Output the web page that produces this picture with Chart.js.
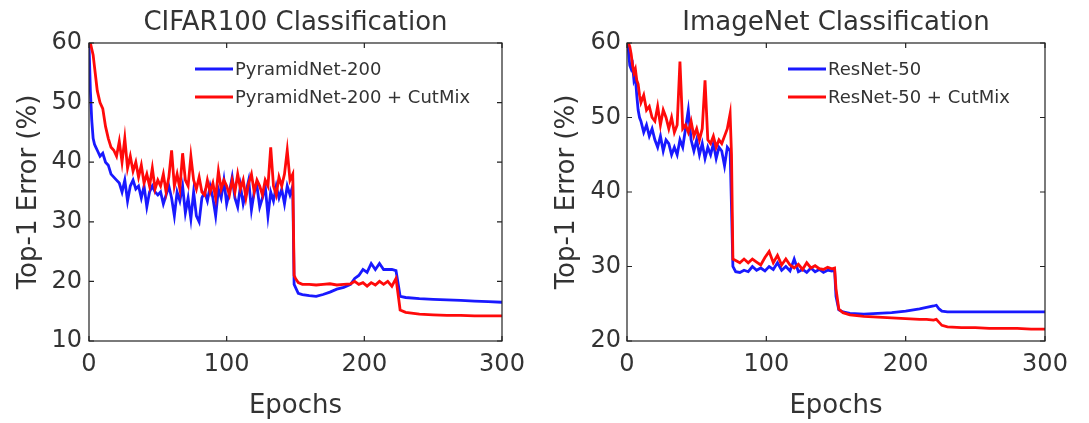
<!DOCTYPE html>
<html>
<head>
<meta charset="utf-8">
<script src="https://cdn.jsdelivr.net/npm/chart.js@4.4.0/dist/chart.umd.min.js"></script>
<style>
  html, body { margin: 0; padding: 0; background: #fff; }
  .panel { position: absolute; top: 0; }
</style>
</head>
<body>
<div class="panel" style="left:0"><canvas id="cifarChart" width="545" height="423"></canvas></div>
<div class="panel" style="left:545px"><canvas id="imagenetChart" width="544" height="423"></canvas></div>
<script>
// ── CIFAR100 data ─────────────────────────────────────────────────────
const cifarEpochs = [
  0, 1, 2, 3, 4, 5, 6, 8, 10, 12, 14, 16, 18,
  20, 22, 24, 26, 28, 30, 32, 34, 36, 38,
  40, 42, 44, 46, 48, 50, 52, 54, 56, 58,
  60, 62, 64, 66, 68, 70, 72, 74, 76, 78,
  80, 82, 84, 86, 88, 90, 92, 94, 96, 98,
  100, 102, 104, 106, 108, 110, 112, 114, 116, 118,
  120, 122, 124, 126, 128, 130, 132, 134, 136, 138,
  140, 142, 144, 146, 148,
  149, 150, 152, 155, 160, 165, 170, 175, 180, 185, 190, 193, 196, 199, 202, 205,
  208, 211, 214, 217, 220, 223, 225, 226, 230, 240, 250, 260, 270, 280, 290, 300
];
const cifarBase = [
  60, 52, 47, 44, 43, 42.5, 42, 41, 41.5, 40, 39.5, 38, 37.5,
  37, 36.5, 35, 37, 33.5, 36, 37, 35.5, 36, 34,
  36, 32.5, 35, 36, 35, 34.5, 35, 33, 34.5, 36,
  34, 31, 35, 33.5, 36, 31.5, 34, 30.5, 35, 31,
  30, 34, 35, 33.5, 36, 34, 31, 35.5, 34, 37,
  33, 35, 37.5, 34, 32.5, 36, 33, 35, 37, 32,
  35, 36, 32.5, 34, 36, 31, 35, 33.5, 36, 34,
  35.5, 33, 36, 34.5, 36,
  19.5, 19, 18, 17.8, 17.6, 17.5, 17.8, 18.2, 18.7, 19, 19.5, 20.5, 21, 22, 21.5, 23,
  22, 23, 22, 22, 22, 21.8, 19, 17.5, 17.3, 17.1, 17, 16.9, 16.8, 16.7, 16.6, 16.5
];
const cifarCutmix = [
  60, 60, 59, 58, 56, 54, 52, 50, 49, 46, 44, 42.5, 42,
  41, 43.5, 40, 44, 39, 41, 38.5, 40, 37.5, 39.5,
  36.5, 38, 36, 39, 35.5, 37, 36, 38, 35, 37.5,
  42, 36, 38, 35.5, 41.5, 37, 36, 41, 37, 35.5,
  37.5, 35, 34.5, 37, 35, 36.5, 34, 38.5, 35.5, 37,
  36, 34.5, 37, 35, 38, 35.5, 37, 34, 36.5, 38,
  35, 37, 36, 34.5, 37, 36, 42.5, 36, 34.5, 37.5,
  36, 38, 42, 37, 38,
  21, 20.5, 19.8, 19.5, 19.5, 19.4, 19.5, 19.6, 19.4, 19.5, 19.6, 20, 19.5, 19.8, 19.2, 19.8,
  19.4, 20, 19.5, 20, 19.2, 20.5, 17, 15.2, 14.8, 14.5, 14.4, 14.3, 14.3, 14.2, 14.2, 14.2
];

// ── ImageNet data ─────────────────────────────────────────────────────
const imagenetEpochs = [
  0, 1, 2, 3, 4, 5, 6, 7, 8, 9, 10,
  12, 14, 16, 18, 20, 22, 24, 26, 28, 30,
  32, 34, 36, 38, 40, 42, 44, 46, 48, 50,
  52, 54, 56, 58, 60, 62, 64, 66, 68, 70, 72, 74,
  75, 76, 78, 81, 84, 87, 90, 93, 96, 99, 102, 105, 108, 111,
  114, 117, 120, 123, 126, 129, 132, 135, 138, 141, 144, 147, 149,
  150, 152, 155, 160, 170, 180, 190, 200, 210, 215, 220,
  222, 224, 226, 230, 240, 250, 260, 270, 280, 290, 300
];
const imagenetBase = [
  60, 59, 57, 56.5, 57, 55, 55.5, 53, 51, 50, 49.5,
  48, 49, 47.5, 48.5, 47, 46, 47.5, 45.5, 47, 46.5,
  45, 46, 45, 47, 46, 48.5, 51, 47, 45.5, 47,
  45, 46.5, 44.5, 46, 45, 46.5, 44.5, 46, 45.5, 43.5, 46, 45.5,
  38, 30, 29.3, 29.2, 29.5, 29.3, 30, 29.5, 29.8, 29.4, 30, 29.6, 30.5, 29.5,
  30, 29.4, 31, 29.3, 29.6, 29.2, 29.8, 29.3, 29.6, 29.2, 29.5, 29.4, 29.5,
  26, 24.2, 23.9, 23.7, 23.6, 23.7, 23.8, 24, 24.3, 24.5, 24.7,
  24.8, 24.3, 24, 23.9, 23.9, 23.9, 23.9, 23.9, 23.9, 23.9, 23.9
];
const imagenetCutmix = [
  60, 60, 59.5, 58.5, 57, 56, 56.5, 55, 54.5, 53, 52,
  53, 51, 51.5, 50, 49.5, 51.5, 49, 51, 50, 48.5,
  50, 48, 49, 57.5, 48.5, 49, 48, 49.5, 47.5, 48.5,
  47, 48.5, 55, 47, 46.5, 47.5, 46, 47, 46.5, 47.5, 48.5, 50.5,
  45, 31, 30.8, 30.5, 31, 30.5, 31, 30.6, 30.2, 31.2, 32, 30.5, 31.5, 30.2,
  31, 30.2, 29.8, 30.3, 29.6, 30.5, 29.8, 30.1, 29.7, 29.6, 29.9, 29.7, 29.8,
  27, 24.3, 23.8, 23.5, 23.3, 23.2, 23.1, 23, 22.9, 22.9, 22.8,
  22.9, 22.5, 22.1, 21.9, 21.8, 21.8, 21.7, 21.7, 21.7, 21.6, 21.6
];

const xTicks = [0, 100, 200, 300];

const BLUE = 'rgb(25, 25, 255)';
const RED  = 'rgb(255, 10, 10)';
const FONT = "'DejaVu Sans', sans-serif";

// ── Frame, inward ticks, title and legend (MATLAB look) ──────────────
const framePlugin = {
  id: 'frame',
  afterDatasetsDraw(chart, args, opts) {
    const { ctx, chartArea: a, scales } = chart;
    ctx.save();
    ctx.strokeStyle = '#222';
    ctx.lineWidth = 1.2;
    ctx.strokeRect(a.left, a.top, a.right - a.left, a.bottom - a.top);

    const tl = 5;
    ctx.beginPath();
    scales.x.ticks.forEach(t => {
      const px = scales.x.getPixelForValue(t.value);
      ctx.moveTo(px, a.bottom); ctx.lineTo(px, a.bottom - tl);
      ctx.moveTo(px, a.top);    ctx.lineTo(px, a.top + tl);
    });
    scales.y.ticks.forEach(t => {
      const py = scales.y.getPixelForValue(t.value);
      ctx.moveTo(a.left, py);  ctx.lineTo(a.left + tl, py);
      ctx.moveTo(a.right, py); ctx.lineTo(a.right - tl, py);
    });
    ctx.stroke();

    // title
    ctx.fillStyle = '#333';
    ctx.font = '26px ' + FONT;
    ctx.textAlign = 'center';
    ctx.textBaseline = 'alphabetic';
    ctx.fillText(opts.title, (a.left + a.right) / 2, 30);

    // legend
    ctx.font = '18px ' + FONT;
    ctx.textAlign = 'left';
    ctx.textBaseline = 'middle';
    opts.legend.forEach((item, i) => {
      const y = opts.legendY[i];
      ctx.strokeStyle = item.color;
      ctx.lineWidth = 2.8;
      ctx.beginPath();
      ctx.moveTo(opts.legendX, y);
      ctx.lineTo(opts.legendX + 38, y);
      ctx.stroke();
      ctx.fillStyle = '#333';
      ctx.fillText(item.label, opts.legendX + 40, y + 1);
    });
    ctx.restore();
  },
};

function toPoints(epochs, values) {
  return epochs.map((e, i) => ({ x: e, y: values[i] }));
}

function makeChart(canvasId, cfg) {
  return new Chart(document.getElementById(canvasId), {
    type: 'line',
    data: {
      datasets: [
        {
          label: cfg.labels[0],
          data: toPoints(cfg.epochs, cfg.base),
          borderColor: BLUE,
          borderWidth: 2.8,
          pointRadius: 0,
          tension: 0,
          order: 1,
        },
        {
          label: cfg.labels[1],
          data: toPoints(cfg.epochs, cfg.cutmix),
          borderColor: RED,
          borderWidth: 2.8,
          pointRadius: 0,
          tension: 0,
          order: 0,
        },
      ],
    },
    options: {
      responsive: false,
      animation: false,
      layout: { padding: { top: 43, right: cfg.padRight, bottom: 0, left: 0 } },
      plugins: {
        legend: { display: false },
        tooltip: { enabled: false },
        frame: {
          title: cfg.title,
          legendX: cfg.legendX,
          legendY: [69, 97],
          legend: [
            { label: cfg.labels[0], color: BLUE },
            { label: cfg.labels[1], color: RED },
          ],
        },
      },
      scales: {
        x: {
          type: 'linear',
          min: 0,
          max: 300,
          afterBuildTicks: scale => { scale.ticks = xTicks.map(v => ({ value: v })); },
          grid: { display: false, drawTicks: false },
          border: { display: false },
          ticks: { font: { size: 24, family: FONT }, color: '#333', padding: 9, maxRotation: 0 },
          title: {
            display: true,
            text: 'Epochs',
            color: '#333',
            font: { size: 26, family: FONT },
            padding: { top: 0, bottom: 1 },
          },
          afterFit: scale => { scale.height = 82; },
        },
        y: {
          min: cfg.yMin,
          max: 60,
          ticks: { stepSize: 10, font: { size: 24, family: FONT }, color: '#333', padding: cfg.yTickPad },
          grid: { display: false, drawTicks: false },
          border: { display: false },
          title: {
            display: true,
            text: 'Top-1 Error (%)',
            color: '#333',
            font: { size: 26, family: FONT },
            padding: { top: cfg.yTitlePad, bottom: 0 },
          },
          afterFit: scale => { scale.width = cfg.yWidth; },
        },
      },
    },
    plugins: [framePlugin],
  });
}

document.addEventListener('DOMContentLoaded', function () {
  makeChart('cifarChart', {
    title: 'CIFAR100 Classification',
    labels: ['PyramidNet-200', 'PyramidNet-200 + CutMix'],
    epochs: cifarEpochs,
    base: cifarBase,
    cutmix: cifarCutmix,
    yMin: 10,
    yWidth: 89,
    padRight: 43,
    yTickPad: 7,
    yTitlePad: 14,
    legendX: 195,
  });

  makeChart('imagenetChart', {
    title: 'ImageNet Classification',
    labels: ['ResNet-50', 'ResNet-50 + CutMix'],
    epochs: imagenetEpochs,
    base: imagenetBase,
    cutmix: imagenetCutmix,
    yMin: 20,
    yWidth: 82,
    padRight: 44,
    yTickPad: 6,
    yTitlePad: 7,
    legendX: 243,
  });
});
</script>
</body>
</html>
